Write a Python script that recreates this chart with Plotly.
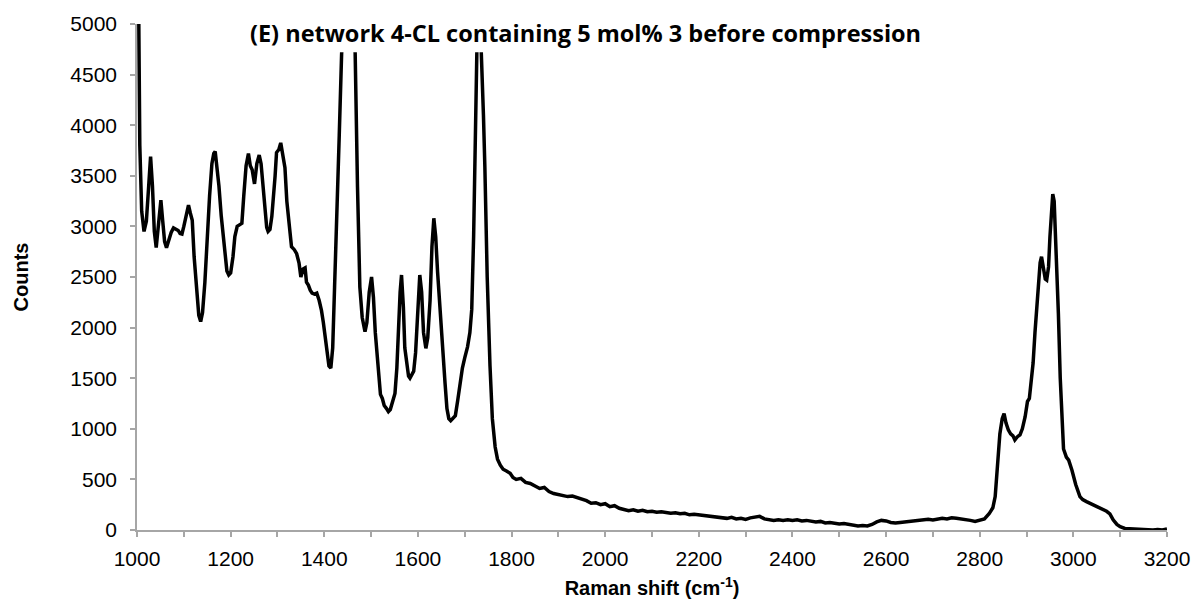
import plotly.graph_objects as go

# Raman spectrum: network 4-CL with 5 mol% 3, before compression
raman_shift = [
    1000, 1003, 1006, 1010, 1015, 1020, 1025, 1029, 1033, 1037, 1041, 1046, 1051, 1055, 1059, 1063,
    1068, 1073, 1078, 1083, 1088, 1092, 1096, 1100, 1105, 1110, 1114, 1118, 1122, 1127, 1132, 1136,
    1140, 1145, 1150, 1155, 1160, 1164, 1167, 1171, 1175, 1180, 1184, 1188, 1192, 1196, 1200, 1205,
    1209, 1214, 1219, 1224, 1228, 1233, 1238, 1242, 1246, 1251, 1256, 1261, 1265, 1269, 1273, 1277,
    1280, 1284, 1288, 1291, 1295, 1298, 1303, 1307, 1311, 1316, 1320, 1325, 1330, 1336, 1341, 1346,
    1350, 1355, 1359, 1362, 1366, 1370, 1374, 1379, 1384, 1389, 1394, 1398, 1402, 1406, 1410, 1414,
    1418, 1422, 1427, 1432, 1437, 1444, 1452, 1460, 1466, 1471, 1476, 1481, 1487, 1491, 1496, 1501,
    1505, 1509, 1513, 1517, 1520, 1524, 1528, 1533, 1537, 1541, 1546, 1551, 1555, 1558, 1562, 1565,
    1569, 1572, 1576, 1580, 1583, 1587, 1591, 1595, 1599, 1604, 1608, 1612, 1617, 1621, 1626, 1630,
    1634, 1638, 1642, 1646, 1650, 1654, 1658, 1662, 1666, 1670, 1675, 1680, 1685, 1690, 1695, 1700,
    1706, 1711, 1715, 1719, 1722, 1726, 1731, 1736, 1740, 1743, 1748, 1754, 1759, 1765, 1770, 1776,
    1782, 1790, 1797, 1803, 1810, 1820, 1830, 1840, 1850, 1860, 1870, 1880, 1890, 1900, 1910, 1920,
    1930, 1940, 1950, 1960, 1970, 1980, 1990, 2000, 2010, 2020, 2030, 2040, 2050, 2060, 2070, 2080,
    2090, 2100, 2110, 2120, 2130, 2140, 2150, 2160, 2170, 2180, 2190, 2200, 2210, 2220, 2230, 2240,
    2250, 2260, 2270, 2280, 2290, 2300, 2310, 2320, 2330, 2340, 2350, 2360, 2370, 2380, 2390, 2400,
    2410, 2420, 2430, 2440, 2450, 2460, 2470, 2480, 2490, 2500, 2510, 2520, 2530, 2540, 2550, 2560,
    2570, 2580, 2590, 2600, 2610, 2620, 2630, 2640, 2650, 2660, 2670, 2680, 2690, 2700, 2710, 2720,
    2730, 2740, 2750, 2760, 2770, 2780, 2790, 2800, 2810, 2820, 2828, 2833, 2838, 2843, 2848, 2852,
    2856, 2861, 2866, 2871, 2875, 2880, 2886, 2891, 2897, 2902, 2906, 2910, 2914, 2918, 2922, 2926,
    2929, 2932, 2936, 2940, 2943, 2947, 2950, 2953, 2956, 2959, 2962, 2965, 2968, 2972, 2976, 2979,
    2985, 2990, 2997, 3005, 3014, 3020, 3028, 3035, 3043, 3050, 3060, 3071, 3078, 3085, 3093, 3100,
    3110, 3120, 3130, 3140, 3150, 3160, 3170, 3180, 3190, 3200,
]

counts = [
    6500, 5500, 3800, 3150, 2950, 3050, 3400, 3690, 3400, 2950, 2790, 3050, 3260, 3050, 2850, 2790,
    2870, 2940, 2985, 2970, 2960, 2930, 2925, 3000, 3120, 3210, 3130, 3060, 2700, 2350, 2120, 2060,
    2150, 2450, 2900, 3300, 3620, 3720, 3740, 3580, 3400, 3100, 2900, 2700, 2560, 2520, 2540, 2700,
    2900, 3000, 3020, 3030, 3300, 3600, 3720, 3600, 3560, 3420, 3620, 3705, 3620, 3400, 3150, 2990,
    2950, 2970, 3100, 3250, 3500, 3730, 3760, 3825, 3700, 3580, 3250, 3000, 2800, 2770, 2730, 2640,
    2500, 2580, 2590, 2450, 2420, 2370, 2340, 2330, 2340, 2270, 2170, 2050, 1900, 1790, 1620, 1600,
    1800, 2400, 3060, 3900, 4700, 5700, 6200, 5600, 4710, 3390, 2400, 2100, 1960, 2050, 2350, 2500,
    2300, 1950, 1700, 1450, 1340, 1300, 1230, 1200, 1170, 1190, 1260, 1350, 1600, 1950, 2350, 2520,
    2200, 1800, 1620, 1520, 1500, 1540, 1570, 1750, 2150, 2520, 2350, 1950, 1795, 1900, 2270, 2800,
    3080, 2900, 2550, 2270, 1900, 1650, 1450, 1200, 1100, 1080, 1100, 1130, 1280, 1450, 1600, 1700,
    1810, 1950, 2180, 2900, 3900, 4750, 5300, 4730, 4100, 3590, 2500, 1620, 1100, 820, 700, 640,
    600, 580, 560, 520, 500, 510, 470, 460, 430, 410, 420, 380, 360, 350, 345, 330,
    335, 320, 300, 290, 265, 270, 250, 260, 230, 240, 215, 205, 190, 200, 185, 195,
    180, 185, 175, 180, 170, 165, 170, 160, 165, 150, 155, 150, 145, 140, 135, 130,
    120, 115, 125, 110, 115, 105, 120, 130, 135, 110, 100, 95, 100, 95, 100, 95,
    100, 90, 95, 90, 80, 85, 70, 75, 70, 60, 65, 55, 45, 40, 45, 40,
    55, 80, 95, 90, 75, 70, 75, 80, 85, 90, 95, 100, 105, 100, 110, 115,
    110, 120, 115, 110, 105, 95, 85, 95, 110, 160, 220, 330, 600, 950, 1100, 1150,
    1060, 990, 950, 930, 890, 920, 940, 1000, 1120, 1270, 1300, 1500, 1650, 1950, 2240, 2500,
    2640, 2700, 2600, 2480, 2470, 2600, 2900, 3200, 3320, 3250, 2900, 2500, 2140, 1500, 1050, 800,
    720, 690, 590, 450, 330, 300, 280, 265, 250, 235, 215, 185, 160, 100, 55, 33,
    15, 12, 10, 10, 5, 5, 0, 5, 0, 10,
]

title_text = "(E) network 4-CL containing 5 mol% 3 before compression"
x_title = "Raman shift (cm<sup>-1</sup>)"
y_title = "Counts"

axis_grey = "#a6a6a6"
tick_font = dict(size=21, family="Liberation Sans", color="black")
label_font = dict(size=20, family="Liberation Sans", color="black")

fig = go.Figure()
fig.add_trace(go.Scatter(
    x=raman_shift, y=counts, mode="lines",
    line=dict(color="black", width=3.5),
    showlegend=False,
))

# white panel behind the chart title so the clipped peaks stop under it
fig.add_shape(
    type="rect", xref="paper", yref="paper",
    x0=0.105, x1=0.768, y0=0.944, y1=1.0,
    fillcolor="white", line=dict(width=0), layer="above",
)
fig.add_annotation(
    text=f"<b>{title_text}</b>", xref="paper", yref="paper",
    x=0.435, y=0.982, showarrow=False, xanchor="center", yanchor="middle",
    font=dict(family="Open Sans", size=23.5, color="black"),
)

fig.update_layout(
    width=1195, height=600,
    margin=dict(l=137, r=28, t=24, b=70),
    paper_bgcolor="white", plot_bgcolor="white",
    font=dict(family="Liberation Sans", color="black"),
)
fig.update_xaxes(
    range=[1000, 3200], tickmode="linear", tick0=1000, dtick=200,
    showline=True, linecolor=axis_grey, linewidth=1.5,
    ticks="outside", ticklen=5, tickcolor=axis_grey, tickwidth=1.5,
    minor=dict(dtick=100, ticks="outside", ticklen=5, tickcolor=axis_grey, tickwidth=1.5),
    showgrid=False, zeroline=False, automargin=False,
    tickfont=tick_font, ticklabelstandoff=4,
    title=dict(text=f"<b>{x_title}</b>", font=label_font, standoff=12),
)
fig.update_yaxes(
    range=[0, 5000], tickmode="linear", tick0=0, dtick=500,
    showline=True, linecolor=axis_grey, linewidth=1.5,
    ticks="outside", ticklen=5, tickcolor=axis_grey, tickwidth=1.5,
    showgrid=False, zeroline=False, automargin=False,
    tickfont=tick_font, ticklabelstandoff=9,
    title=dict(text=f"<b>{y_title}</b>", font=label_font, standoff=36),
)

fig.write_html("out.html")
